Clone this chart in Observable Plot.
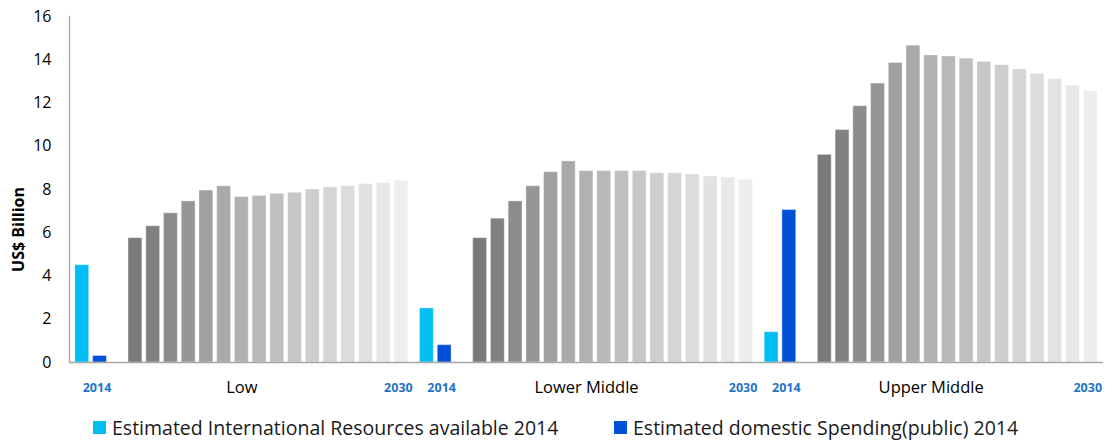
<!DOCTYPE html>
<html>
<head>
<meta charset="utf-8">
<script src="https://cdn.jsdelivr.net/npm/d3@7"></script>
<script src="https://cdn.jsdelivr.net/npm/@observablehq/plot@0.6"></script>
<style>
  html, body { margin: 0; padding: 0; background: #fff; }
  #chart { width: 1114px; font-family: "Open Sans", Lato, sans-serif; }
  .legend { position: relative; height: 35px; width: 1114px; }
  .legend .item { position: absolute; top: 6px; display: flex; align-items: center;
    font-size: 19.5px; color: #1a1a1a; white-space: nowrap; }
  .legend .swatch { width: 13px; height: 13px; margin-right: 6px; }
</style>
</head>
<body>
<div id="chart"></div>
<script>
// Income groups along the axis
const groups = ["Low", "Lower Middle", "Upper Middle"];

// Projection years shown as grey bars
const years = ["2015", "2016", "2017", "2018", "2019", "2020", "2021", "2022",
               "2023", "2024", "2025", "2026", "2027", "2028", "2029", "2030"];

// 2014 resources (US$ billion), one value per income group
const international2014 = [4.5, 2.5, 1.4];
const domestic2014 = [0.3, 0.8, 7.05];

// Estimated needs per year (US$ billion)
const lowNeeds = [5.75, 6.3, 6.9, 7.45, 7.95, 8.15, 7.65, 7.7, 7.8, 7.85, 8.0, 8.1, 8.15, 8.25, 8.3, 8.4];
const lowerMiddleNeeds = [5.75, 6.65, 7.45, 8.15, 8.8, 9.3, 8.85, 8.85, 8.85, 8.85, 8.75, 8.75, 8.7, 8.6, 8.55, 8.45];
const upperMiddleNeeds = [9.6, 10.75, 11.85, 12.9, 13.85, 14.65, 14.2, 14.15, 14.05, 13.9, 13.75, 13.55, 13.35, 13.1, 12.8, 12.55];

// Axis and label text
const yTicks = [0, 2, 4, 6, 8, 10, 12, 14, 16];
const yLabel = "US$ Billion";
const firstYear = "2014";
const lastYear = "2030";
const legendLabels = ["Estimated International Resources available 2014",
                      "Estimated domestic Spending(public) 2014"];

// Bar slots inside each group: the two 2014 bars, an empty slot, then the years
const slots = ["intl", "dom", "gap", ...years];
const needs = [lowNeeds, lowerMiddleNeeds, upperMiddleNeeds];

const rows = groups.flatMap((g, i) => [
  {group: g, slot: "intl", value: international2014[i]},
  {group: g, slot: "dom", value: domestic2014[i]},
  ...years.map((yr, j) => ({group: g, slot: yr, value: needs[i][j]}))
]);

const yearMarks = groups.flatMap(g => [
  {group: g, slot: "dom", label: firstYear},
  {group: g, slot: years[years.length - 1], label: lastYear}
]);

// Palette: cyan / blue for 2014, greys fading out towards 2030
const cyan = "#00bef2";
const blue = "#0050d8";
const greys = ["#7a7a7a", "#818181", "#8c8c8c", "#969696", "#a0a0a0", "#a9a9a9",
               "#b1b1b1", "#b8b8b8", "#bfbfbf", "#c6c6c6", "#cecece", "#d5d5d5",
               "#dcdcdc", "#e2e2e2", "#e8e8e8", "#eeeeee"];
const axisGrey = "#a6a6a6";

const plot = Plot.plot({
  width: 1114,
  height: 408,
  marginLeft: 69,
  marginRight: 11,
  marginTop: 16,
  marginBottom: 46,
  style: {fontFamily: "'Open Sans', Lato, sans-serif", color: "#000", background: "#fff"},
  fx: {domain: groups, padding: 0, round: false},
  x: {domain: slots, paddingInner: 0.22, paddingOuter: 0.33, round: false, axis: null},
  y: {domain: [0, 16]},
  color: {domain: ["intl", "dom", ...years], range: [cyan, blue, ...greys]},
  marks: [
    Plot.barY(rows, {fx: "group", x: "slot", y: "value", fill: "slot",
      stroke: "#fff", strokeOpacity: 0.35, strokeWidth: 1}),
    Plot.ruleY([0], {stroke: axisGrey, strokeWidth: 1.3}),
    Plot.frame({anchor: "left", facetAnchor: "left", stroke: axisGrey, strokeWidth: 1.3}),
    Plot.axisY({ticks: yTicks, tickSize: 0, tickPadding: 18, fontSize: 16, label: null}),
    Plot.axisFx({anchor: "bottom", tickSize: 0, tickPadding: 19, fontSize: 16.5, label: null}),
    Plot.text(yearMarks, {fx: "group", x: "slot", text: "label", frameAnchor: "bottom",
      dx: -3, dy: 29, fontSize: 12.5, fontWeight: "bold", fill: "#1f74c6"}),
    Plot.text([yLabel], {text: d => d, frameAnchor: "left", facetAnchor: "left",
      textAnchor: "middle", rotate: -90, dx: -51, dy: 40, fontSize: 16,
      fontWeight: "bold", fill: "#000"})
  ]
});

const root = document.getElementById("chart");
root.appendChild(plot);

// Legend for the two 2014 series
const legend = document.createElement("div");
legend.className = "legend";
[[cyan, legendLabels[0], 93], [blue, legendLabels[1], 614]].forEach(([c, t, left]) => {
  const item = document.createElement("div");
  item.className = "item";
  item.style.left = left + "px";
  const sw = document.createElement("span");
  sw.className = "swatch";
  sw.style.background = c;
  const label = document.createElement("span");
  label.textContent = t;
  item.append(sw, label);
  legend.appendChild(item);
});
root.appendChild(legend);
</script>
</body>
</html>
